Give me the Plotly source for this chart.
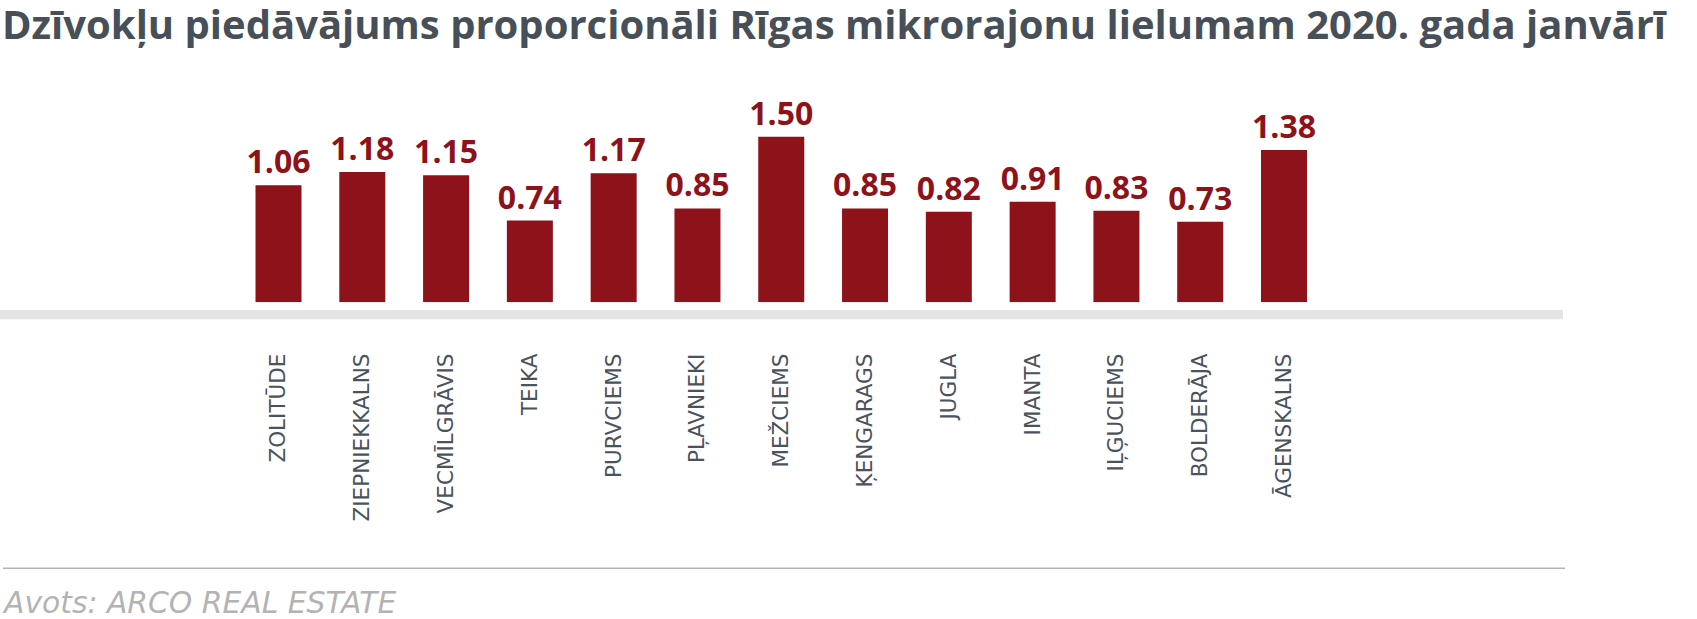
import plotly.graph_objects as go

# ---- data ----
categories = ["ZOLITŪDE", "ZIEPNIEKKALNS", "VECMĪLGRĀVIS", "TEIKA", "PURVCIEMS",
              "PĻAVNIEKI", "MEŽCIEMS", "ĶENGARAGS", "JUGLA", "IMANTA",
              "IĻĢUCIEMS", "BOLDERĀJA", "ĀGENSKALNS"]
values = [1.06, 1.18, 1.15, 0.74, 1.17, 0.85, 1.50, 0.85, 0.82, 0.91, 0.83, 0.73, 1.38]
value_labels = ["%.2f" % v for v in values]

title_text = "Dzīvokļu piedāvājums proporcionāli Rīgas mikrorajonu lielumam 2020. gada janvārī"
source_text = "Avots: ARCO REAL ESTATE"

# ---- layout helpers (pixel -> paper) ----
W, H = 1697, 619
def fx(px):
    return px / W
def fy(py):
    return 1 - py / H

BAR = "#8e121a"
TXT = "#4a535d"

plot_left, plot_right = 236.6, 1325.9
plot_top, plot_bottom = 100.0, 302.3
px_per_unit = 110.4

fig = go.Figure()
fig.add_trace(go.Bar(
    x=categories, y=values,
    marker=dict(color=BAR, line=dict(width=0)),
    text=value_labels, textposition="outside",
    constraintext="none",
    textfont=dict(family="Open Sans", size=32, color=BAR, weight="bold"),
    cliponaxis=False,
    hoverinfo="skip",
))

fig.update_layout(
    width=W, height=H,
    margin=dict(l=0, r=0, t=0, b=0),
    paper_bgcolor="white", plot_bgcolor="white",
    showlegend=False,
    bargap=0.451,
    xaxis=dict(
        domain=[fx(plot_left), fx(plot_right)],
        showgrid=False, zeroline=False, showline=False,
        ticks="", tickangle=-90,
        ticklabelstandoff=46,
        tickfont=dict(family="DejaVu Sans", size=21.5, color=TXT),
        automargin=False,
    ),
    yaxis=dict(
        domain=[fy(plot_bottom), fy(plot_top)],
        range=[0, (plot_bottom - plot_top) / px_per_unit],
        showgrid=False, zeroline=False, showline=False, showticklabels=False,
        automargin=False,
    ),
    shapes=[
        dict(type="rect", xref="paper", yref="paper",
             x0=0, x1=fx(1563), y0=fy(319.3), y1=fy(310),
             fillcolor="#e4e4e4", line=dict(width=0), layer="below"),
        dict(type="line", xref="paper", yref="paper",
             x0=fx(3), x1=fx(1565), y0=fy(568.3), y1=fy(568.3),
             line=dict(color="#b3b3b3", width=1.5)),
    ],
    annotations=[
        dict(text="<b>" + title_text + "</b>", xref="paper", yref="paper",
             x=0, y=1, xanchor="left", yanchor="top", showarrow=False, yshift=6,
             font=dict(family="Open Sans", size=40, color="#474f58")),
        dict(text=source_text, xref="paper", yref="paper",
             x=0, y=0, xanchor="left", yanchor="bottom", showarrow=False, yshift=-3,
             font=dict(family="DejaVu Sans", size=29.8, color="#b3b3b3", style="italic")),
    ],
)

fig.write_html("out.html", config={"displayModeBar": False},
               post_script="document.body.style.margin='0px';")
